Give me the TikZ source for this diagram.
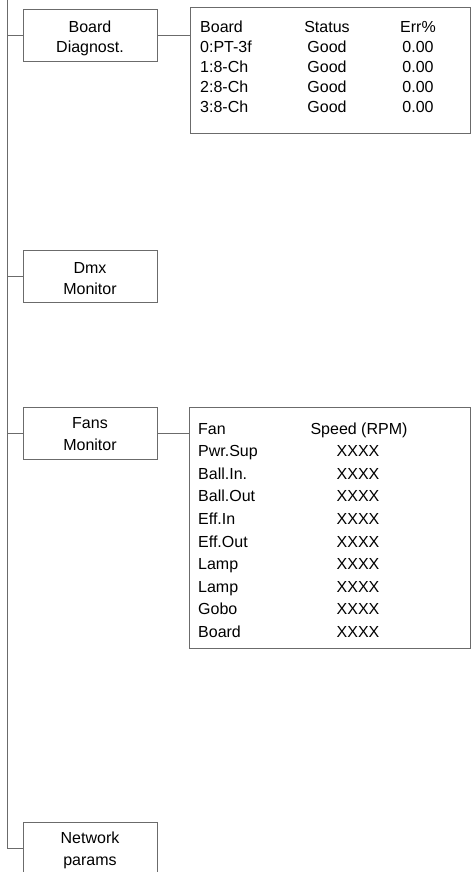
\documentclass[tikz,border=0pt]{standalone}
\usepackage{fontspec}
\setmainfont{Liberation Sans}
\begin{document}
\begin{tikzpicture}[x=1pt,y=-1pt,
  line/.style={draw=black!58,line width=0.9pt},
  menubox/.style={line,minimum width=134pt,minimum height=52pt,inner sep=0pt},
  tablebox/.style={line,inner sep=0pt,anchor=north west},
  txt/.style={inner sep=0pt,font=\fontsize{16}{19}\selectfont},
  lt/.style={txt,anchor=base west},
  ct/.style={txt,anchor=base}]
\useasboundingbox (0,0) rectangle (471,872);
% menu boxes
\node[menubox] (bd) at (90,35) {};
\node[ct] (bdl1) at (90,33) {Board};
\node[ct] (bdl2) at (90,53) {Diagnost.};
\node[menubox] (dmx) at (90,276) {};
\node[ct] (dmxl1) at (90,273) {Dmx};
\node[ct] (dmxl2) at (90,294.5) {Monitor};
\node[menubox] (fans) at (90,433.5) {};
\node[ct] (fansl1) at (90,428) {Fans};
\node[ct] (fansl2) at (90,450) {Monitor};
\node[menubox] (net) at (90,848) {};
\node[ct] (netl1) at (90,843) {Network};
\node[ct] (netl2) at (90,865) {params};
% table boxes
\node[tablebox,minimum width=280pt,minimum height=126pt] (bt) at (190,7) {};
\node[tablebox,minimum width=281pt,minimum height=241pt] (ft) at (189,407) {};
% trunk
\coordinate (top) at (7,0);
\coordinate (bot) at (net.west -| top);
\draw[line] (top) -- (bot) -- (net.west);
\draw[line] (bd.west -| top) -- (bd.west);
\draw[line] (dmx.west -| top) -- (dmx.west);
\draw[line] (fans.west -| top) -- (fans.west);
\draw[line] (bd.east) -- (bd.east -| bt.west);
\draw[line] (fans.east) -- (fans.east -| ft.west);
% board table
\node[lt] (b0) at (200,33) {Board};
\node[ct] (s0) at (327,33) {Status};
\node[ct] (e0) at (418,33) {Err\%};
\node[lt] (b1) at (200,53) {0:PT-3f};
\node[ct] (s1) at (327,53) {Good};
\node[ct] (e1) at (418,53) {0.00};
\node[lt] (b2) at (200,73) {1:8-Ch};
\node[ct] (s2) at (327,73) {Good};
\node[ct] (e2) at (418,73) {0.00};
\node[lt] (b3) at (200,93) {2:8-Ch};
\node[ct] (s3) at (327,93) {Good};
\node[ct] (e3) at (418,93) {0.00};
\node[lt] (b4) at (200,113) {3:8-Ch};
\node[ct] (s4) at (327,113) {Good};
\node[ct] (e4) at (418,113) {0.00};
% fans table
\node[lt] (f0) at (198,434.3) {Fan};
\node[ct] (r0) at (359,434.3) {Speed (RPM)};
\foreach \i/\n in {1/Pwr.Sup,2/Ball.In.,3/Ball.Out,4/Eff.In,5/Eff.Out,6/Lamp,7/Lamp,8/Gobo,9/Board}{
  \node[lt] (f\i) at (198,434.3+22.56*\i) {\n};
  \node[ct] (r\i) at (358,434.3+22.56*\i) {XXXX};
}
\end{tikzpicture}
\end{document}
